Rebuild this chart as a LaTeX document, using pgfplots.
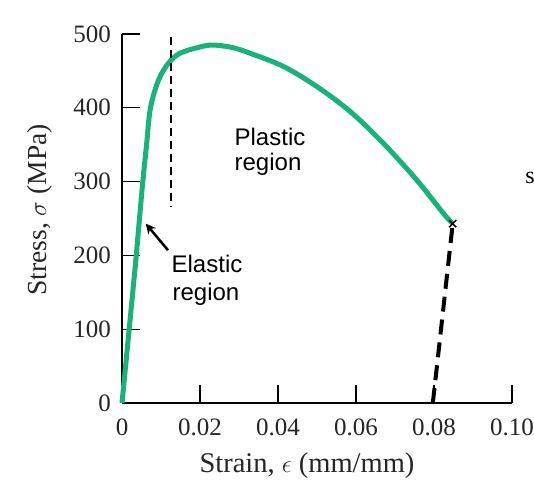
\documentclass[border=0pt]{standalone}
\usepackage{pgfplots}
\pgfplotsset{compat=1.18}
\usepackage{fontspec}
\setmainfont{Liberation Serif}
\newfontfamily\sansf{Liberation Sans}
\usetikzlibrary{arrows.meta}
\definecolor{curvegreen}{RGB}{25,178,120}
\begin{document}
\begin{tikzpicture}
\path[use as bounding box, fill=white] (0pt,0pt) rectangle (534pt,480pt);
\begin{axis}[
  at={(122pt,77pt)}, anchor=south west,
  scale only axis, width=390pt, height=369pt,
  xmin=0, xmax=0.1, ymin=0, ymax=500,
  axis lines=left,
  axis line style={-, line width=2.4pt, black},
  clip=false,
  tick align=inside,
  major tick length=18pt,
  every tick/.style={black, line width=1.3pt},
  xtick={0,0.02,0.04,0.06,0.08,0.10},
  xticklabels={0,0.02,0.04,0.06,0.08,0.10},
  ytick={0,100,200,300,400,500},
  yticklabels={0,100,200,300,400,500},
  xticklabel style={font=\fontsize{25}{30}\selectfont, anchor=base, yshift=-32pt, text=black!85},
  yticklabel style={font=\fontsize{25}{30}\selectfont, anchor=east, inner sep=0pt, xshift=-11pt, text=black!85},
]
% main stress-strain curve
\addplot[curvegreen, line width=5pt, smooth, tension=0.55] coordinates {
 (0,0) (0.0033,180) (0.0043,239) (0.0053,298) (0.0063,350) (0.0073,400)
 (0.0094,438) (0.0120,461) (0.0149,474) (0.0197,482) (0.0231,485)
 (0.0280,482) (0.0328,474) (0.0414,456) (0.0499,429) (0.0585,395)
 (0.0670,352) (0.0756,302) (0.0824,257) (0.0848,243)
};
% yield dashed line
\addplot[black, line width=2pt, dash pattern=on 8pt off 5pt] coordinates {(0.0126,496) (0.0126,266)};
% unloading dashed line
\addplot[black, line width=4pt, dash pattern=on 15pt off 8pt] coordinates {(0.0797,0) (0.0848,243)};
% fracture mark
\addplot[black, only marks, mark=x, mark size=5pt, line width=1.5pt] coordinates {(0.0848,243)};
% arrow pointing to elastic region
\addplot[black, line width=2.5pt, -{Stealth[length=10pt,width=10pt]}] coordinates {(0.0118,207) (0.0061,243)};
\end{axis}
% annotation texts
\node[anchor=base, inner sep=0pt, font=\sansf\fontsize{24}{28}\selectfont] at (270pt,335pt) {Plastic};
\node[anchor=base, inner sep=0pt, font=\sansf\fontsize{24}{28}\selectfont] at (268pt,310pt) {region};
\node[anchor=base, inner sep=0pt, font=\sansf\fontsize{24}{28}\selectfont] at (207pt,208pt) {Elastic};
\node[anchor=base, inner sep=0pt, font=\sansf\fontsize{24}{28}\selectfont] at (206pt,180pt) {region};
% axis titles
\node[anchor=base, inner sep=0pt, font=\fontsize{28.5}{33}\selectfont, text=black!85] at (307pt,8pt) {Strain, $\epsilon$ (mm/mm)};
\node[anchor=base, rotate=90, inner sep=0pt, font=\fontsize{27.5}{32}\selectfont, text=black!85] at (46pt,270pt) {Stress, $\sigma$ (MPa)};
% stray glyph at the right edge
\node[anchor=base, inner sep=0pt, font=\fontsize{24}{28}\selectfont] at (530pt,297pt) {s};
\end{tikzpicture}
\end{document}
